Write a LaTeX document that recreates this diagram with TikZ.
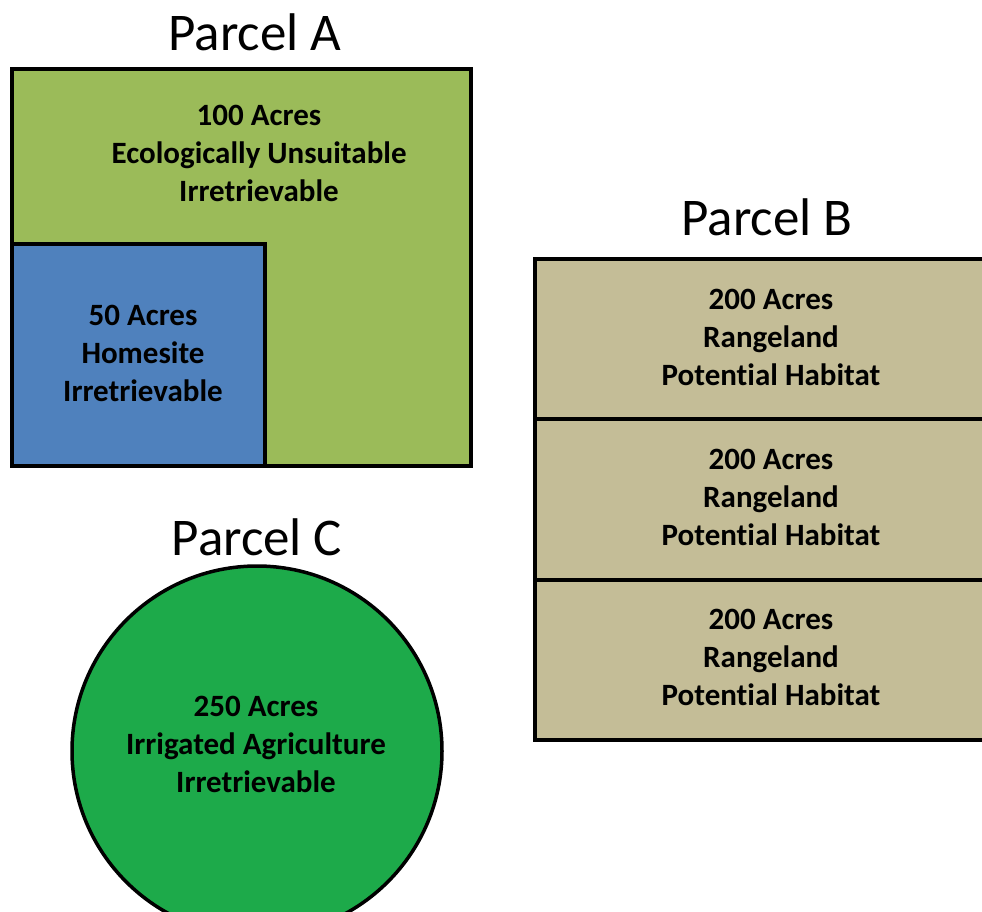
\documentclass[tikz,border=0pt]{standalone}
\usepackage{fontspec}
\setmainfont{Carlito}[Ligatures=NoCommon]
\definecolor{fieldgreen}{HTML}{9BBB59}
\definecolor{homeblue}{HTML}{4F81BD}
\definecolor{rangetan}{HTML}{C4BD97}
\definecolor{irrigreen}{HTML}{1DAA4A}

\begin{document}
\begin{tikzpicture}[x=1pt,y=-1pt]
  \tikzstyle{title}=[font=\fontsize{53}{60}\selectfont,anchor=base,inner sep=0pt]
  \tikzstyle{info}=[font=\fontsize{31}{38}\selectfont\bfseries,align=center,inner sep=0pt]
  \tikzstyle{plot}=[draw=black,line width=4pt]

\useasboundingbox (0,0) rectangle (982,911);

\begin{scope}
\draw [plot,fill=fieldgreen] (12,69) rectangle (471,466);
\draw [plot,fill=homeblue] (12,244) rectangle (265,466);
\node [title] (pa) at (255,50) {Parcel A};
\node [info] (a1) at (259,153) {100 Acres\\Ecologically Unsuitable\\Irretrievable};
\node [info] (a2) at (143,353) {50 Acres\\Homesite\\Irretrievable};

\draw [plot,fill=rangetan] (535,259) rectangle (1000,419);
\draw [plot,fill=rangetan] (535,419) rectangle (1000,580);
\draw [plot,fill=rangetan] (535,580) rectangle (1000,740);
\node [title] (pb) at (767,235) {Parcel B};
\node [info] (b1) at (771,337) {200 Acres\\Rangeland\\Potential Habitat};
\node [info] (b2) at (771,497) {200 Acres\\Rangeland\\Potential Habitat};
\node [info] (b3) at (771,657) {200 Acres\\Rangeland\\Potential Habitat};

\draw [plot,line width=3.5pt,fill=irrigreen] (257,751) circle (185pt);
\node [title] (pc) at (257,555) {Parcel C};
\node [info] (c1) at (256,744) {250 Acres\\Irrigated Agriculture\\Irretrievable};
\end{scope}
\end{tikzpicture}
\end{document}
